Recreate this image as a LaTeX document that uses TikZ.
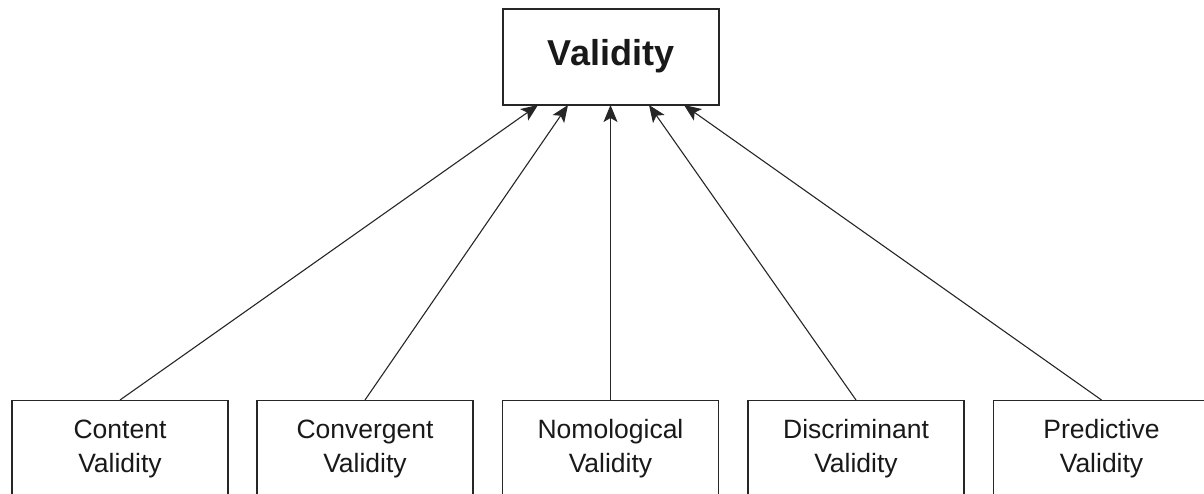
\documentclass[tikz,border=0pt]{standalone}
\usepackage{fontspec}
\setmainfont{Liberation Sans}
\usetikzlibrary{arrows.meta}
\tikzset{
  box/.style={draw=black!85, line width=1.3pt, fill=white, rectangle, inner sep=0pt},
  topbox/.style={box, minimum width=216pt, minimum height=96pt},
  subbox/.style={box, anchor=north, minimum width=216pt, minimum height=120pt},
  lbl/.style={anchor=base, inner sep=0pt, font=\fontsize{26.5}{32}\selectfont, text=black!90},
  toplbl/.style={anchor=base, inner sep=0pt, font=\fontsize{36}{42}\selectfont\bfseries, text=black!90},
  arr/.style={draw=black!85, line width=1.1pt, -{Stealth[length=17pt,width=14pt,inset=4pt]}}
}
\begin{document}
\begin{tikzpicture}[x=1pt,y=-1pt]
\useasboundingbox (0,0) rectangle (1204,493);
\clip (0,0) rectangle (1204,493);
% top
\node[topbox] (v) at (611,57) {};
\node[toplbl] (vt) at (611,65) {Validity};
% bottom boxes
\node[subbox] (b1) at (120,400) {};
\node[subbox] (b2) at (365,400) {};
\node[subbox] (b3) at (610.5,400) {};
\node[subbox] (b4) at (856,400) {};
\node[subbox] (b5) at (1101.5,400) {};
\node[lbl] (b1a) at (120,438) {Content};
\node[lbl] (b1b) at (120,472) {Validity};
\node[lbl] (b2a) at (365,438) {Convergent};
\node[lbl] (b2b) at (365,472) {Validity};
\node[lbl] (b3a) at (610.5,438) {Nomological};
\node[lbl] (b3b) at (610.5,472) {Validity};
\node[lbl] (b4a) at (856,438) {Discriminant};
\node[lbl] (b4b) at (856,472) {Validity};
\node[lbl] (b5a) at (1101.5,438) {Predictive};
\node[lbl] (b5b) at (1101.5,472) {Validity};
% arrow ends on the top box
\coordinate (e1) at (538,105);
\coordinate (e2) at (568,105);
\coordinate (e3) at (610.5,105);
\coordinate (e4) at (649,105);
\coordinate (e5) at (684,105);
\draw[arr] (b1.north) -- (e1);
\draw[arr] (b2.north) -- (e2);
\draw[arr] (b3.north) -- (e3);
\draw[arr] (b4.north) -- (e4);
\draw[arr] (b5.north) -- (e5);
\end{tikzpicture}
\end{document}
